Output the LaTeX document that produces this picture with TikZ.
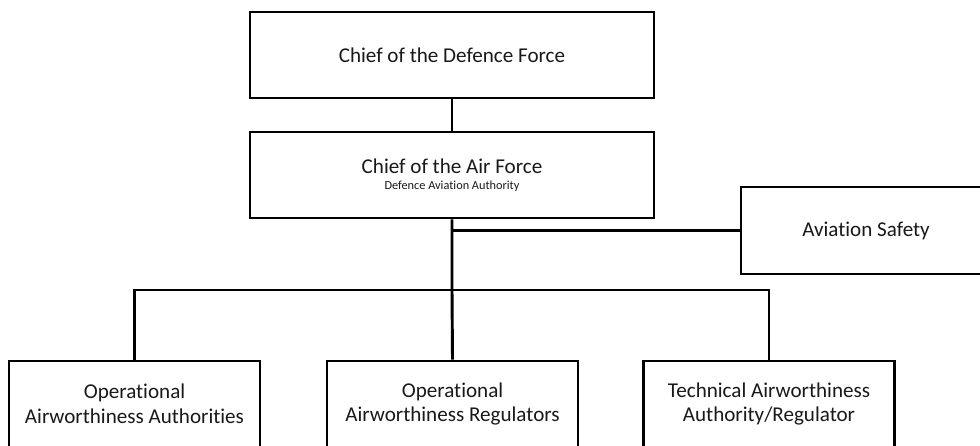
\documentclass[tikz,border=0pt]{standalone}
\usepackage{fontspec}
\setmainfont{Carlito}[Ligatures=CommonOff]
\usetikzlibrary{positioning}

\begin{document}
\begin{tikzpicture}[x=0.03cm, y=-0.03cm,
	every node/.style={font=\fontsize{18}{21}\selectfont, align=center, text=black!90},
	box/.style={draw, line width=2.5pt, minimum width=7.53cm, minimum height=2.58cm, inner sep=0pt},
	wide/.style={box, minimum width=12.12cm},
	link/.style={line width=2.5pt}]
	\useasboundingbox (0,0) rectangle (980,445);
	\node[wide] (cdf) at (452,55) {Chief of the Defence Force};
	\node[wide] (caf) at (452,175) {Chief of the Air Force\\[-7pt]{\fontsize{10.5}{12}\selectfont Defence Aviation Authority}};
	\node[box, minimum height=2.61cm, minimum width=7.5cm] (safety) at (866,230.5) {Aviation Safety};
	\node[box] (oaa) at (134.5,404) {Operational\\Airworthiness Authorities};
	\node[box] (oar) at (452.5,404) {Operational\\Airworthiness Regulators};
	\node[box] (tar) at (769,404) {Technical Airworthiness\\Authority/Regulator};
	\coordinate (bus) at (452,290);
	\draw[link] (cdf) -- (caf);
	\draw[link] (caf.south) -- (bus) -- (oar.north);
	\draw[link] (safety.west) -- (safety.west -| caf.south);
	\draw[link] (oaa.north) |- (bus) -| (tar.north);
\end{tikzpicture}
\end{document}
